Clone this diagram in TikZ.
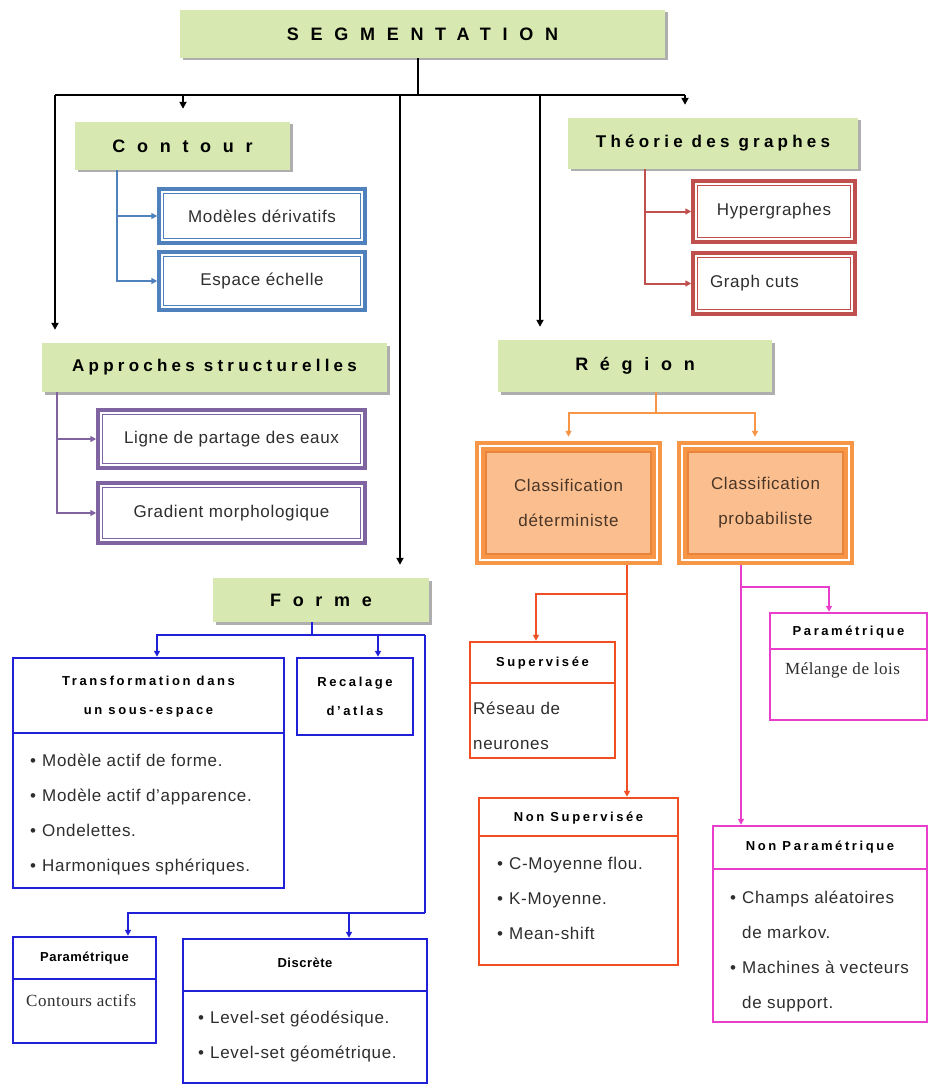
\documentclass[tikz,border=0pt]{standalone}
\usepackage{fontspec}
\setmainfont{Liberation Sans}
\newfontfamily\serf{Liberation Serif}
\usetikzlibrary{arrows.meta,shadows}
\definecolor{gfill}{HTML}{D7E9B0}
\definecolor{cblue}{HTML}{4F81BD}
\definecolor{cred}{HTML}{C0504D}
\definecolor{cpurp}{HTML}{8064A2}
\definecolor{corg}{HTML}{F79646}
\definecolor{clight}{HTML}{FBBF8F}
\definecolor{corgd}{HTML}{E9843A}
\definecolor{fblue}{HTML}{2020D8}
\definecolor{sred}{HTML}{F04E23}
\definecolor{cpink}{HTML}{E93ECB}
\definecolor{txt}{HTML}{2E2E2E}
\definecolor{ctxt}{HTML}{4A3526}
\newcommand\segf{\fontsize{18}{21}\selectfont\bfseries\addfontfeature{LetterSpace=65}}
\newcommand\gwf{\fontsize{17}{20}\selectfont\bfseries\addfontfeature{LetterSpace=25}}
\newcommand\subf{\fontsize{13}{29}\selectfont\bfseries\addfontfeature{LetterSpace=20}}
\newcommand\subsf{\fontsize{13}{29}\selectfont\bfseries\addfontfeature{LetterSpace=4}}
\newcommand\bodyf{\fontsize{17}{35}\selectfont\addfontfeature{LetterSpace=4}}
\newcommand\serbody{\serf\fontsize{17}{35}\selectfont\addfontfeature{LetterSpace=3}}
\newcommand\bul{\makebox[12pt][l]{•}}
\newcommand\fl{\rule{0pt}{14pt}}
\tikzset{
  gbox/.style={fill=gfill, draw=none, inner sep=0pt, text=black,
    drop shadow={shadow xshift=2.5pt, shadow yshift=-2.5pt, fill=black!45, opacity=0.7}},
  dbox/.style={draw=#1, line width=3.5pt, fill=white, inner sep=0pt, text=txt, font=\bodyf,
    path picture={\draw[#1, line width=1pt]
      ([shift={(4.5pt,-4.5pt)}]path picture bounding box.north west) rectangle
      ([shift={(-4.5pt,4.5pt)}]path picture bounding box.south east);}},
  cbox/.style={fill=corg, draw=none, inner sep=0pt, text=ctxt, font=\bodyf, align=center,
    path picture={
      \draw[white, line width=1.4pt]
        ([shift={(5pt,-5pt)}]path picture bounding box.north west) rectangle
        ([shift={(-5pt,5pt)}]path picture bounding box.south east);
      \draw[corgd, fill=clight, line width=1.5pt]
        ([shift={(11pt,-11pt)}]path picture bounding box.north west) rectangle
        ([shift={(-11pt,11pt)}]path picture bounding box.south east);}},
  fbox/.style={draw=#1, line width=2.5pt, fill=white, inner sep=0pt},
  divl/.style={draw=#1, line width=2.5pt},
  hdr/.style={font=\subf, text=black, align=center},
  hdrs/.style={font=\subsf, text=black},
  bodyn/.style={font=\bodyf, text=txt, align=left, inner sep=0pt},
  sern/.style={font=\serbody, text=txt, inner sep=0pt},
  blk/.style={line width=2.2pt, black},
  barr/.style={blk, -{Triangle[length=7pt,width=7pt]}, shorten >=13pt},
  cc/.style={line width=2pt, draw=#1},
  carr/.style={line width=2pt, draw=#1, -{Triangle[length=6pt,width=6pt]}}
}
\begin{document}
\begin{tikzpicture}[x=1pt,y=-1pt]
\fill[white] (0,0) rectangle (930,1086);
\useasboundingbox (0,0) rectangle (930,1086);

% top level
\node[gbox, minimum width=485pt, minimum height=48pt, font=\segf] (seg) at (422.5,34) {SEGMENTATION};
\node[gbox, minimum width=215pt, minimum height=48pt, font=\segf] (contour) at (182.5,146) {Contour};
\node[gbox, minimum width=290pt, minimum height=51pt, font=\gwf] (theo) at (713,143.5) {Théorie des graphes};
\node[gbox, minimum width=345pt, minimum height=49pt, font=\gwf] (appr) at (214.5,367.5) {Approches structurelles};
\node[gbox, minimum width=274pt, minimum height=52pt, font=\segf] (region) at (635,366) {Région};
\node[gbox, minimum width=216pt, minimum height=44pt, font=\segf] (forme) at (321,600) {Forme};

% contour children
\node[dbox=cblue, minimum width=206pt, minimum height=54pt] (mod) at (262,216) {Modèles dérivatifs};
\node[dbox=cblue, minimum width=206pt, minimum height=58pt] (esp) at (262,281) {Espace échelle};
% graph children
\node[dbox=cred, minimum width=162pt, minimum height=61pt] (hyp) at (774,211.5) {Hypergraphes};
\node[dbox=cred, minimum width=162pt, minimum height=61pt, text width=128pt, align=left] (gc) at (774,283.5) {Graph cuts};
% structural children
\node[dbox=cpurp, minimum width=267pt, minimum height=58pt] (ligne) at (231.5,439) {Ligne de partage des eaux};
\node[dbox=cpurp, minimum width=267pt, minimum height=60pt] (grad) at (231.5,513) {Gradient morphologique};
% region children
\node[cbox, minimum width=187pt, minimum height=124pt] (cdet) at (568.5,503) {Classification\\déterministe};
\node[cbox, minimum width=177pt, minimum height=124pt] (cprob) at (765.5,503) {Classification\\probabiliste};

% forme children
\node[fbox=fblue, minimum width=271pt, minimum height=230pt] (trans) at (148.5,773) {};
\draw[divl=fblue] (trans.west |- 0,733) -- (trans.east |- 0,733);
\node[hdr] (transh) at (148.5,697) {Transformation dans\\un sous-espace};
\node[bodyn, anchor=north west] (transb) at (30,752) {\fl\bul Modèle actif de forme.\\\bul Modèle actif d’apparence.\\\bul Ondelettes.\\\bul Harmoniques sphériques.};

\node[fbox=fblue, minimum width=116pt, minimum height=77pt, font=\subf, align=center] (recal) at (355,696.5) {Recalage\\d’atlas};

\node[fbox=fblue, minimum width=143pt, minimum height=106pt] (param) at (84.5,990) {};
\draw[divl=fblue] (param.west |- 0,979) -- (param.east |- 0,979);
\node[hdrs] (paramh) at (84.5,958) {Paramétrique};
\node[sern, anchor=west] (paramb) at (26,1001) {Contours actifs};

\node[fbox=fblue, minimum width=244pt, minimum height=144pt] (disc) at (305,1011) {};
\draw[divl=fblue] (disc.west |- 0,991) -- (disc.east |- 0,991);
\node[hdrs] (disch) at (305,963) {Discrète};
\node[bodyn, anchor=north west] (discb) at (198,1009) {\fl\bul Level-set géodésique.\\\bul Level-set géométrique.};

% deterministic children
\node[fbox=sred, minimum width=145pt, minimum height=116pt] (sup) at (542.5,700) {};
\draw[divl=sred] (sup.west |- 0,683) -- (sup.east |- 0,683);
\node[hdr] (suph) at (542.5,663) {Supervisée};
\node[bodyn, anchor=north west] (supb) at (473,700) {\fl Réseau de\\neurones};

\node[fbox=sred, minimum width=199pt, minimum height=167pt] (nonsup) at (578.5,881.5) {};
\draw[divl=sred] (nonsup.west |- 0,836) -- (nonsup.east |- 0,836);
\node[hdr] (nonsuph) at (578.5,818) {Non Supervisée};
\node[bodyn, anchor=north west] (nonsupb) at (497,855) {\fl\bul C-Moyenne flou.\\\bul K-Moyenne.\\\bul Mean-shift};

% probabilistic children
\node[fbox=cpink, minimum width=157pt, minimum height=107pt] (paramR) at (848.5,666.5) {};
\draw[divl=cpink] (paramR.west |- 0,649) -- (paramR.east |- 0,649);
\node[hdr] (paramRh) at (848.5,632) {Paramétrique};
\node[sern, anchor=west] (paramRb) at (785,670) {Mélange de lois};

\node[fbox=cpink, minimum width=214pt, minimum height=196pt] (nonparam) at (820,924) {};
\draw[divl=cpink] (nonparam.west |- 0,869) -- (nonparam.east |- 0,869);
\node[hdr] (nonparamh) at (820,847) {Non Paramétrique};
\node[bodyn, anchor=north west] (nonparamb) at (730,889) {\fl\bul Champs aléatoires\\\hspace*{12pt}de markov.\\\bul Machines à vecteurs\\\hspace*{12pt}de support.};

% black connectors
\coordinate (h1) at (55,95);
\coordinate (h2) at (685,95);
\draw[blk] (seg.south -| 418,0) -- (418,95);
\draw[blk, line width=2.8pt] (h1) -- (h2);
\draw[barr] (183,95) -- (contour.north -| 183,0);
\draw[barr] (h2) -- (theo.north -| 685,0);
\draw[barr] (h1) -- (appr.north -| 55,0);
\draw[barr] (400,95) -- (forme.north -| 400,0);
\draw[barr] (540,95) -- (region.north -| 540,0);

% contour
\draw[carr=cblue] (contour.south -| 117,0) |- (esp.west);
\draw[carr=cblue] (mod.west -| 117,0) -- (mod.west);
% graphs
\draw[carr=cred] (theo.south -| 645,0) |- (gc.west);
\draw[carr=cred] (hyp.west -| 645,0) -- (hyp.west);
% structural
\draw[carr=cpurp] (appr.south -| 57,0) |- (grad.west);
\draw[carr=cpurp] (ligne.west -| 57,0) -- (ligne.west);
% region
\coordinate (rj) at (656,413);
\draw[cc=corg] (region.south -| 656,0) -- (rj);
\draw[carr=corg, shorten >=4pt] (rj) -| (cdet.north);
\draw[carr=corg, shorten >=4pt] (rj) -| (cprob.north -| 755,0);
% forme
\coordinate (fj) at (312,635);
\coordinate (fr) at (425,635);
\coordinate (fb) at (425,913);
\draw[cc=fblue] (forme.south -| 312,0) -- (fj);
\draw[carr=fblue] (fr) -| (trans.north -| 157,0);
\draw[carr=fblue] (fj) -| (recal.north -| 378,0);
\draw[cc=fblue] (fr) -- (fb);
\draw[carr=fblue] (fb) -| (param.north -| 128,0);
\draw[carr=fblue] (fb -| 349,0) -- (disc.north -| 349,0);
% deterministic
\draw[carr=sred] (cdet.south -| 627,0) -- (nonsup.north -| 627,0);
\draw[carr=sred] (627,594) -| (sup.north -| 536,0);
% probabilistic
\draw[carr=cpink] (cprob.south -| 741,0) -- (nonparam.north -| 741,0);
\draw[carr=cpink] (741,587) -| (paramR.north -| 829,0);
\end{tikzpicture}
\end{document}
